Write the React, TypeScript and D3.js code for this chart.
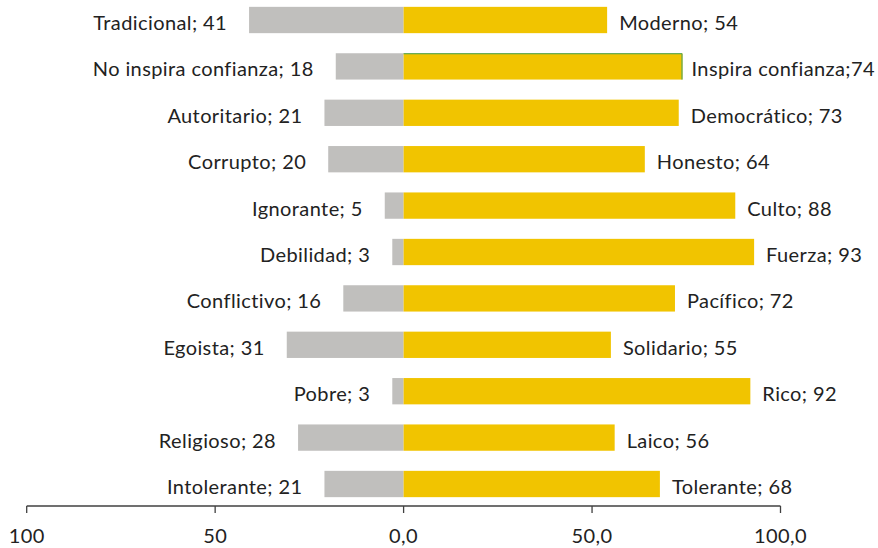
import React from "react";
import * as d3 from "d3";

const leftLabels = ["Tradicional", "No inspira confianza", "Autoritario", "Corrupto", "Ignorante", "Debilidad", "Conflictivo", "Egoista", "Pobre", "Religioso", "Intolerante"];
const leftValues = [41, 18, 21, 20, 5, 3, 16, 31, 3, 28, 21];
const rightLabels = ["Moderno", "Inspira confianza", "Democrático", "Honesto", "Culto", "Fuerza", "Pacífico", "Solidario", "Rico", "Laico", "Tolerante"];
const rightValues = [54, 74, 73, 64, 88, 93, 72, 55, 92, 56, 68];
const tickValues = [-100, -50, 0, 50, 100];
const tickLabels = ["100", "50", "0,0", "50,0", "100,0"];

const W = 878;
const H = 548;
const FONT = "Lato, 'Open Sans', sans-serif";
const GREY = "#C0BFBD";
const YELLOW = "#F1C400";
const FS = 20;
const LS = 0.4;

export default function App() {
  const x = d3.scaleLinear().domain([-100, 100]).range([26.7, 780.5]);
  const rows = leftLabels.map((_, i) => i);
  const y = d3
    .scaleBand<number>()
    .domain(rows)
    .range([-3.2, 507.2])
    .paddingInner(0.433)
    .paddingOuter(0.2165);
  const bw = y.bandwidth();
  const axisY = 506;

  return (
    <svg
      width={W}
      height={H}
      style={{ position: "absolute", left: 0, top: 0, background: "#fff" }}
      fontFamily={FONT}
    >
      {rows.map((i) => {
        const y0 = y(i) as number;
        const cy = y0 + bw / 2;
        const lx = x(-leftValues[i]);
        const rx = x(rightValues[i]);
        const label = i === 1 ? `${rightLabels[i]};${rightValues[i]}` : `${rightLabels[i]}; ${rightValues[i]}`;
        return (
          <g key={i}>
            <rect x={lx} y={y0} width={x(0) - lx} height={bw} fill={GREY} />
            <rect x={x(0)} y={y0} width={rx - x(0)} height={bw} fill={YELLOW} />
            {i === 1 && (
              <polyline
                points={`${x(0)},${y0 + 0.5} ${rx - 0.5},${y0 + 0.5} ${rx - 0.5},${y0 + bw}`}
                fill="none"
                stroke="#3FA060"
                strokeWidth={1}
              />
            )}
            <text
              x={lx - 22}
              y={cy + 2}
              textAnchor="end"
              dominantBaseline="central"
              fontSize={FS}
              letterSpacing={LS}
              fill="#222"
            >
              {`${leftLabels[i]}; ${leftValues[i]}`}
            </text>
            <text
              x={rx + (i === 1 ? 9 : 12)}
              y={cy + 2}
              textAnchor="start"
              dominantBaseline="central"
              fontSize={FS}
              letterSpacing={LS}
              fill="#222"
            >
              {label}
            </text>
          </g>
        );
      })}
      <line x1={x(-100)} x2={x(100)} y1={axisY} y2={axisY} stroke="#404040" strokeWidth={1.3} />
      {tickValues.map((t, i) => (
        <g key={t}>
          <line x1={x(t)} x2={x(t)} y1={axisY} y2={axisY + 7} stroke="#404040" strokeWidth={1.3} />
          <text x={x(t)} y={543} textAnchor="middle" fontSize={FS} letterSpacing={LS} fill="#222">
            {tickLabels[i]}
          </text>
        </g>
      ))}
    </svg>
  );
}
